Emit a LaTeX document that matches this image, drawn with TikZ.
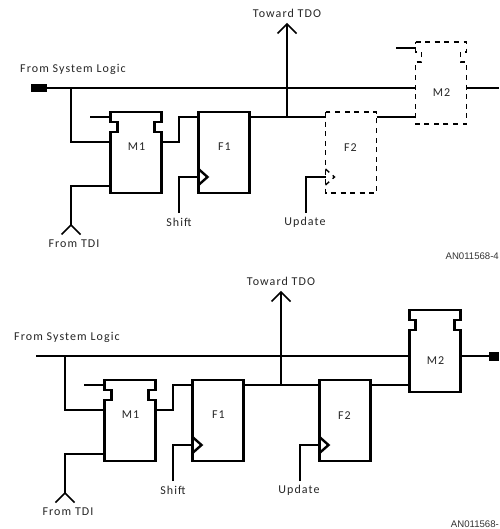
\documentclass[tikz,border=0pt]{standalone}
\usepackage{fontspec}
\setmainfont{Liberation Sans}
\newfontfamily\lblfont[LetterSpace=9]{Carlito}
\usetikzlibrary{calc}
\tikzset{
  wire/.style={line width=1.6pt,line cap=butt,line join=miter},
  buswire/.style={line width=2pt},
  solidbox/.style={line width=2.4pt,line join=miter},
  dashbox/.style={line width=1.4pt,dash pattern=on 5pt off 4.6pt},
  shell/.style={draw=none,inner sep=0pt,outer sep=0pt,minimum width=#1},
  shell/.default=51pt,
  lbl/.style={inner sep=0pt,font=\lblfont\fontsize{12}{14}\selectfont,text=black!85},
  code/.style={inner sep=0pt,font=\fontsize{9.6}{12}\selectfont,text=black!80},
  term/.style={fill=black,draw=none,inner sep=0pt,outer sep=0pt},
}
% #1 prefix, #2 x shift, #3 y shift, #4 style of F2 and M2
\newcommand{\Stage}[4]{%
\begin{scope}[shift={(#2,#3)}]
  \node[shell,minimum height=81pt] (#1M1) at (136,152.5) {};
  \node[shell,minimum height=81pt] (#1F1) at (224,152.5) {};
  \node[shell,minimum height=81pt] (#1F2) at (351,152.5) {};
  \node[shell,minimum height=82pt] (#1M2) at (441,83) {};
  \node[lbl] (#1tM1) at (136.5,147) {M1};
  \node[lbl] (#1tF1) at (224.5,147) {F1};
  \node[lbl] (#1tF2) at (350.5,148) {F2};
  \node[lbl] (#1tM2) at (441.5,93) {M2};
  \node[lbl] (#1tTDI) at (74,244) {From TDI};
  \node[lbl] (#1tShift) at (179,222) {Shift};
  \node[lbl] (#1tUpd) at (305,222) {Update};
  \node[lbl] (#1tTDO) at (287,13) {Toward TDO};
  \node[lbl] (#1tSys) at (73,69) {From System Logic};
  % notched multiplexers
  \draw[solidbox] (#1M1.north west) -- (#1M1.north east) -- ++(0,10) -- ++(-7,0) -- ++(0,10) -- ++(7,0)
     -- (#1M1.south east) -- (#1M1.south west) -- ++(0,-61) -- ++(7,0) -- ++(0,-10) -- ++(-7,0) -- cycle;
  \draw[#4] (#1M2.north west) -- (#1M2.north east) -- ++(0,10) -- ++(-6,0) -- ++(0,10) -- ++(6,0)
     -- (#1M2.south east) -- (#1M2.south west) -- ++(0,-62) -- ++(6,0) -- ++(0,-10) -- ++(-6,0) -- cycle;
  % flip-flops
  \draw[solidbox] (#1F1.north west) rectangle (#1F1.south east);
  \draw[#4] (#1F2.north west) rectangle (#1F2.south east);
  \coordinate (#1ck1) at (#1F1.west |- 0,177);
  \coordinate (#1ck2) at (#1F2.west |- 0,177);
  \draw[solidbox] ($(#1ck1)+(0,-8)$) -- ++(9,8) -- ++(-9,8);
  \draw[#4] ($(#1ck2)+(0,-8)$) -- ++(9,8) -- ++(-9,8);
  % free ends and wire points
  \coordinate (#1busL) at (71,88);
  \coordinate (#1sel1) at (90,117);
  \coordinate (#1q1) at (#1F1.east |- 0,117);
  \coordinate (#1tap) at (287,117);
  \coordinate (#1tip) at (287,24);
  \coordinate (#1tdiEnd) at (71,225);
  \coordinate (#1shEnd) at (179,213);
  \coordinate (#1upEnd) at (306,213);
  % wires
  \draw[wire] (#1busL) |- (#1M1.west |- 0,142);
  \draw[wire] (#1tdiEnd) |- (#1M1.west |- 0,186);
  \draw[wire] (#1sel1) -- (#1M1.west |- #1sel1);
  \draw[wire] (#1M1.east |- 0,142) -- (179,142) |- (#1F1.west |- #1sel1);
  \draw[wire] (#1q1) -- (#1F2.west |- #1q1);
  \draw[wire] (#1F2.east |- #1q1) -- (#1M2.west |- #1q1);
  \draw[wire] (#1shEnd) |- (#1ck1);
  \draw[wire] (#1upEnd) |- (#1ck2);
  \draw[wire] (#1tap) -- (#1tip);
  \draw[wire,line join=miter] ($(#1tip)+(-9.5,9.5)$) -- (#1tip) -- ++(9.5,9.5);
  \draw[wire] ($(#1tdiEnd)+(-9.5,9.5)$) -- (#1tdiEnd) -- ++(9.5,9.5);
\end{scope}}
\begin{document}
\begin{tikzpicture}[x=1pt,y=-1pt]
  \useasboundingbox (0,0) rectangle (499,529);
  \fill[white] (0,0) rectangle (499,529);
  \Stage{a}{0}{0}{dashbox}
  \Stage{b}{-6}{268}{solidbox}
  % top stage bus and the select line of the dashed M2
  \node[term,minimum width=16pt,minimum height=8.5pt] (atermL) at (39,88) {};
  \coordinate (aoutR) at (499,88);
  \coordinate (asel2) at (396,48);
  \draw[buswire] (atermL.east) -- (aM2.west |- atermL);
  \draw[buswire] (aM2.east |- atermL) -- (aoutR);
  \draw[wire] (asel2) -- (aM2.west |- asel2);
  % bottom stage bus
  \coordinate (bbusStart) at (36,356);
  \node[term,minimum width=10pt,minimum height=9pt] (btermR) at (494,356) {};
  \draw[buswire] (bbusStart) -- (bM2.west |- bbusStart);
  \draw[buswire] (bM2.east |- bbusStart) -- (btermR.west);
  \node[code,anchor=east] (acode) at (499,256) {AN011568-4};
  \node[code,anchor=east] (bcode) at (499,524) {AN011568-};
\end{tikzpicture}
\end{document}
